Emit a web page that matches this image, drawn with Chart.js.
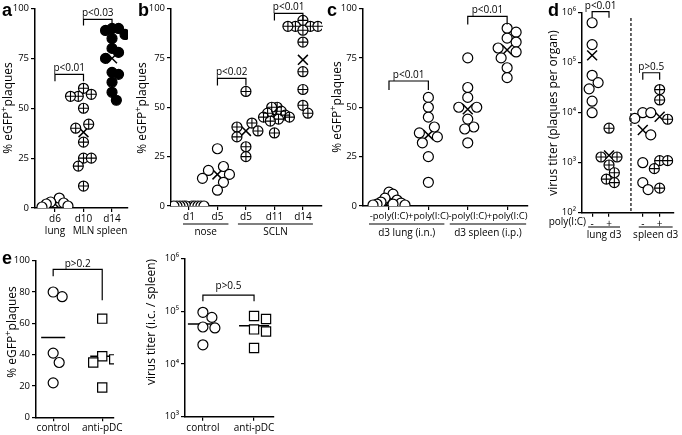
<!DOCTYPE html>
<html>
<head>
<meta charset="utf-8">
<script src="https://cdn.jsdelivr.net/npm/chart.js@4.4.1/dist/chart.umd.min.js"></script>
<style>
html, body { margin: 0; padding: 0; background: #fff; }
#wrap { position: relative; width: 682px; height: 435px; overflow: hidden; }
#wrap canvas { position: absolute; left: 0; top: 0; }
</style>
</head>
<body>
<div id="wrap">
  <canvas id="pa" width="682" height="435"></canvas>
  <canvas id="pb" width="682" height="435"></canvas>
  <canvas id="pc" width="682" height="435"></canvas>
  <canvas id="pd" width="682" height="435"></canvas>
  <canvas id="pe1" width="682" height="435"></canvas>
  <canvas id="pe2" width="682" height="435"></canvas>
</div>
<script>
// ---- panel a : % eGFP+ plaques per organ
const aCats = [['d6', 'lung'], ['d10', 'MLN'], ['d14', 'spleen']];
const aD6 = [5, 3, 2.5, 2, 1, 0.5];
const aD10 = [60, 57, 56, 56, 50, 42, 40, 33, 25, 25, 21, 11];
const aD14 = [90, 90, 89, 87, 85, 80, 78, 75, 68, 67, 63, 58, 54];
const aMeans = [2, 38, 75];

// ---- panel b : nose / SCLN
const bCats = ['d1', 'd5', 'd5', 'd11', 'd14'];
const bNoseD1 = [0, 0, 0, 0, 0, 0, 0, 0, 0, 0];
const bNoseD5 = [29, 20, 18, 16, 14, 12, 8];
const bSclnD5 = [58, 42, 40, 38, 35, 30, 25];
const bSclnD11 = [50, 50, 48, 47, 46, 45, 45, 44, 43, 37];
const bSclnD14 = [94, 91, 91, 91, 91, 89, 83, 68, 59, 51, 47];
const bMeans = [0, 16, 38, 46, 74];

// ---- panel c : poly(I:C)
const cCats = ['-poly(I:C)', '+poly(I:C)', '-poly(I:C)', '+poly(I:C)'];
const cLungMinus = [7, 6, 4, 3, 2, 1.5, 1, 1, 0.5, 0.5];
const cLungPlus = [55, 50, 45, 40, 37, 35, 32, 25, 12];
const cSpleenMinus = [75, 60, 55, 50, 50, 44, 40, 39, 32];
const cSpleenPlus = [90, 88, 85, 83, 80, 78, 75, 70, 65];
const cMeans = [2, 36, 49, 79];

// ---- panel d : virus titer
const dCats = ['-', '+', '', '-', '+'];
const dLungMinus = [630000, 230000, 56000, 40000, 30000, 17000, 10000];
const dLungPlus = [4900, 1300, 1300, 900, 630, 470, 400];
const dSpleenMinus = [10000, 10000, 7700, 3600, 1000, 400, 290];
const dSpleenPlus = [29000, 18000, 7400, 1100, 1100, 760, 310];
const dMeans = [140000, 1400, null, 4500, 8300];

// ---- panel e : pDC depletion
const eCats = ['control', 'anti-pDC'];
const eGfpControl = [80, 77, 41, 35, 22];
const eGfpAnti = [63, 39, 37, 35, 19];
const eGfpMeans = [51, 39];
const eTiterControl = [95000, 76000, 50000, 48000, 23000];
const eTiterAnti = [81000, 71000, 45000, 41000, 20000];
const eTiterMeans = [57000, 53000];

const FAM = '"Open Sans", "Noto Sans", sans-serif';
const SUP = ['\u2070', '\u00b9', '\u00b2', '\u00b3', '\u2074', '\u2075', '\u2076'];

function group(values, cat, kind) {
    const ds = {
        data: values.map(v => ({ x: cat, y: v })),
        swarm: true,
        cat: cat,
        borderColor: '#000',
        borderWidth: 1.2,
        pointRadius: 5,
        pointHoverRadius: 5,
        backgroundColor: '#fff',
        pointStyle: 'circle'
    };
    if (kind === 'filled') ds.backgroundColor = '#000';
    if (kind === 'plus') ds.plus = true;
    if (kind === 'square') { ds.pointStyle = 'rect'; ds.pointRadius = 6.5; }
    return ds;
}

function means(arr, style, r) {
    return {
        data: arr.map((m, i) => m == null ? null : { x: i, y: m }).filter(p => p),
        isMean: true,
        pointStyle: style,
        pointRadius: r,
        borderColor: '#000',
        backgroundColor: '#000',
        borderWidth: 1.5
    };
}

function richText(g, parts, x, y, rot, size) {
    g.save();
    g.translate(x, y);
    if (rot) g.rotate(-Math.PI / 2);
    let w = 0;
    parts.forEach(p => {
        g.font = (p.sup ? size * 0.8 : size) + 'px ' + FAM;
        w += g.measureText(p.t).width;
    });
    let cx = -w / 2;
    g.textAlign = 'left';
    g.textBaseline = 'middle';
    parts.forEach(p => {
        g.font = (p.sup ? size * 0.8 : size) + 'px ' + FAM;
        g.fillText(p.t, cx, p.sup ? -size * 0.38 : 0);
        cx += g.measureText(p.t).width;
    });
    g.restore();
}

// crosses inside the circled points, brackets, group lines and free text
const annot = {
    id: 'annot',
    afterDatasetDraw(chart, args) {
        const ds = chart.data.datasets[args.index];
        if (!ds.plus) return;
        const g = chart.ctx;
        g.save();
        g.strokeStyle = '#000';
        g.lineWidth = 1.1;
        g.beginPath();
        args.meta.data.forEach(el => {
            const r = ds.pointRadius;
            g.moveTo(el.x - r, el.y); g.lineTo(el.x + r, el.y);
            g.moveTo(el.x, el.y - r); g.lineTo(el.x, el.y + r);
        });
        g.stroke();
        g.restore();
    },
    afterDraw(chart, args, o) {
        const g = chart.ctx, xs = chart.scales.x, ys = chart.scales.y;
        g.save();
        g.strokeStyle = '#000';
        g.fillStyle = '#000';
        g.lineWidth = 1.2;
        g.textAlign = 'center';
        g.textBaseline = 'middle';
        if (o.vline) {
            const x = xs.getPixelForValue(o.vline.x);
            g.setLineDash([3, 2]);
            g.beginPath();
            g.moveTo(x, o.vline.top);
            g.lineTo(x, chart.chartArea.bottom);
            g.stroke();
            g.setLineDash([]);
        }
        (o.brackets || []).forEach(b => {
            const x1 = xs.getPixelForValue(b.from), x2 = xs.getPixelForValue(b.to);
            const y = ys.getPixelForValue(b.y);
            g.beginPath();
            g.moveTo(x1, y + b.legs[0]);
            g.lineTo(x1, y);
            g.lineTo(x2, y);
            g.lineTo(x2, y + b.legs[1]);
            g.stroke();
            g.font = '10px ' + FAM;
            g.fillText(b.text, (x1 + x2) / 2, y - (b.gap || 6));
        });
        (o.groups || []).forEach(gr => {
            const x1 = xs.getPixelForValue(gr.from) - gr.ext[0];
            const x2 = xs.getPixelForValue(gr.to) + gr.ext[1];
            g.beginPath();
            g.moveTo(x1, gr.lineY);
            g.lineTo(x2, gr.lineY);
            g.stroke();
            g.font = '10px ' + FAM;
            g.fillText(gr.text, (x1 + x2) / 2, gr.textY);
        });
        (o.texts || []).forEach(t => {
            if (t.parts) {
                richText(g, t.parts, t.x, t.y, t.rot, t.size || 12);
                return;
            }
            g.save();
            g.font = t.font || ('10px ' + FAM);
            g.textAlign = t.align || 'center';
            g.textBaseline = t.baseline || 'middle';
            g.translate(t.x, t.y);
            if (t.rot) g.rotate(-Math.PI / 2);
            g.fillText(t.text, 0, 0);
            g.restore();
        });
        g.restore();
    }
};

// spread points of one group sideways so the markers do not sit on top of each other
function swarm(chart, minDist, step, maxHalf) {
    const xs = chart.scales.x, ys = chart.scales.y;
    const unit = xs.getPixelForValue(1) - xs.getPixelForValue(0);
    const mds = chart.data.datasets.find(d => d.isMean);
    chart.data.datasets.forEach(ds => {
        if (!ds.swarm) return;
        const placed = [];
        const m = mds && mds.pointStyle === 'crossRot' ? mds.data.find(p => p.x === ds.cat) : null;
        if (m) placed.push({ o: 0, y: ys.getPixelForValue(m.y) });
        const offs = [];
        ds.data.forEach(p => {
            const py = ys.getPixelForValue(p.y);
            for (let k = 0; k < 400; k++) {
                const o = (k % 2 ? 1 : -1) * Math.ceil(k / 2) * step;
                if (placed.every(q => Math.hypot(q.o - o, q.y - py) >= minDist)) {
                    placed.push({ o: o, y: py });
                    offs.push(o);
                    break;
                }
            }
        });
        const big = Math.max(...offs.map(Math.abs));
        const f = big > maxHalf ? maxHalf / big : 1;
        ds.data.forEach((p, i) => { p.x = ds.cat + offs[i] * f / unit; });
    });
    chart.update('none');
}

function xAxis(min, max, cats, size) {
    return {
        type: 'linear',
        min: min,
        max: max,
        afterFit: s => { s.height = 30; },
        afterBuildTicks: s => {
            s.ticks = cats.map((c, i) => ({ value: i })).filter(t => cats[t.value] !== '');
        },
        ticks: {
            autoSkip: false,
            maxRotation: 0,
            padding: 1,
            color: '#000',
            font: { family: FAM, size: size || 10 },
            callback: v => cats[v]
        },
        grid: { drawOnChartArea: false, drawTicks: true, tickLength: 4, color: '#000', lineWidth: 1.2 },
        border: { color: '#000', width: 1.5 }
    };
}

function yLinear(max, step) {
    return {
        type: 'linear',
        min: 0,
        max: max,
        afterFit: s => { s.width = 30; },
        ticks: { stepSize: step, padding: 2, color: '#000', font: { family: FAM, size: 9.5 } },
        grid: { drawOnChartArea: false, drawTicks: true, tickLength: 4, color: '#000', lineWidth: 1.2 },
        border: { color: '#000', width: 1.5 }
    };
}

function yLog(lo, hi) {
    return {
        type: 'logarithmic',
        min: Math.pow(10, lo),
        max: Math.pow(10, hi),
        afterFit: s => { s.width = 30; },
        afterBuildTicks: s => {
            const t = [];
            for (let e = lo; e <= hi; e++) t.push({ value: Math.pow(10, e) });
            s.ticks = t;
        },
        ticks: {
            padding: 2,
            color: '#000',
            font: { family: FAM, size: 9.5 },
            callback: v => '10' + SUP[Math.round(Math.log10(v))]
        },
        grid: { drawOnChartArea: false, drawTicks: true, tickLength: 4, color: '#000', lineWidth: 1.2 },
        border: { color: '#000', width: 1.5 }
    };
}

function panel(id, area, xs, ys, datasets, ann) {
    return new Chart(document.getElementById(id), {
        type: 'scatter',
        data: { datasets: datasets },
        options: {
            responsive: false,
            animation: false,
            devicePixelRatio: 1,
            layout: {
                padding: { left: area[0] - 30, top: area[1], right: 682 - area[2], bottom: 435 - area[3] - 30 }
            },
            plugins: { legend: { display: false }, tooltip: { enabled: false }, annot: ann },
            scales: { x: xs, y: ys }
        },
        plugins: [annot]
    });
}

const eGFP = [{ t: '% eGFP' }, { t: '+', sup: true }, { t: 'plaques' }];
const LETTER = 'bold 18px "Liberation Sans", Arial, sans-serif';

// a
const chartA = panel('pa', [35, 8, 128, 208], xAxis(-0.70, 2.56, aCats), yLinear(100, 25), [
    group(aD6, 0, 'open'),
    group(aD10, 1, 'plus'),
    group(aD14, 2, 'filled'),
    means(aMeans, 'crossRot', 7)
], {
    brackets: [
        { from: 0, to: 1, y: 67, legs: [7, 7], text: 'p<0.01' },
        { from: 1, to: 2, y: 94.5, legs: [6, 6], text: 'p<0.03' }
    ],
    texts: [
        { text: 'a', x: 2, y: 16, font: LETTER, align: 'left', baseline: 'alphabetic' },
        { parts: eGFP, x: 9, y: 108, rot: true, size: 12 }
    ]
});
swarm(chartA, 9, 3, 13);

// b
const chartB = panel('pb', [171, 6, 322, 206], xAxis(-0.63, 4.67, bCats), yLinear(100, 25), [
    group(bNoseD1, 0, 'open'),
    group(bNoseD5, 1, 'open'),
    group(bSclnD5, 2, 'plus'),
    group(bSclnD11, 3, 'plus'),
    group(bSclnD14, 4, 'plus'),
    means(bMeans, 'crossRot', 7)
], {
    brackets: [
        { from: 1, to: 2, y: 64.6, legs: [7, 7], text: 'p<0.02' },
        { from: 3, to: 4, y: 97.5, legs: [7, 7], text: 'p<0.01' }
    ],
    groups: [
        { from: 0, to: 1, ext: [6, 11], lineY: 224, textY: 232, text: 'nose' },
        { from: 2, to: 4, ext: [8, 10], lineY: 224, textY: 232, text: 'SCLN' }
    ],
    texts: [
        { text: 'b', x: 138, y: 16, font: LETTER, align: 'left', baseline: 'alphabetic' },
        { parts: eGFP, x: 143, y: 108, rot: true, size: 12 }
    ]
});
swarm(chartB, 9, 3, 15);

// c
const chartC = panel('pc', [363, 7, 528, 206], xAxis(-0.66, 3.53, cCats, 9.5), yLinear(100, 25), [
    group(cLungMinus, 0, 'open'),
    group(cLungPlus, 1, 'open'),
    group(cSpleenMinus, 2, 'open'),
    group(cSpleenPlus, 3, 'open'),
    means(cMeans, 'crossRot', 7)
], {
    brackets: [
        { from: 0, to: 1, y: 63.3, legs: [9, 9], text: 'p<0.01' },
        { from: 2, to: 3, y: 96, legs: [8, 8], text: 'p<0.01' }
    ],
    groups: [
        { from: 0, to: 1, ext: [20, 16], lineY: 224, textY: 233, text: 'd3 lung (i.n.)' },
        { from: 2, to: 3, ext: [18, 19], lineY: 224, textY: 233, text: 'd3 spleen (i.p.)' }
    ],
    texts: [
        { text: 'c', x: 327, y: 16, font: LETTER, align: 'left', baseline: 'alphabetic' },
        { parts: eGFP, x: 338, y: 107, rot: true, size: 12 }
    ]
});
swarm(chartC, 9, 3, 16);

// d
const chartD = panel('pd', [582, 12.7, 681, 212.7], xAxis(-0.6, 4.82, dCats), yLog(2, 6), [
    group(dLungMinus, 0, 'open'),
    group(dLungPlus, 1, 'plus'),
    group(dSpleenMinus, 3, 'open'),
    group(dSpleenPlus, 4, 'plus'),
    means(dMeans, 'crossRot', 7)
], {
    vline: { x: 2.3, top: 18 },
    brackets: [
        { from: 0, to: 1, y: 1050000, legs: [6, 6], text: 'p<0.01', gap: 5 },
        { from: 3, to: 4, y: 63000, legs: [7, 7], text: 'p>0.5' }
    ],
    groups: [
        { from: 0, to: 1, ext: [4, 11], lineY: 227, textY: 235, text: 'lung d3' },
        { from: 3, to: 4, ext: [4, 13], lineY: 227, textY: 235, text: 'spleen d3' }
    ],
    texts: [
        { text: 'd', x: 548, y: 16, font: LETTER, align: 'left', baseline: 'alphabetic' },
        { text: 'poly(I:C)', x: 586, y: 222, align: 'right' },
        { text: 'virus titer (plaques per organ)', x: 554, y: 113, rot: true, font: '12px ' + FAM }
    ]
});
swarm(chartD, 9, 3, 8);

// e, left
const chartE1 = panel('pe1', [36, 260.7, 114, 417.3], xAxis(-0.35, 1.24, eCats), yLinear(100, 20), [
    group(eGfpControl, 0, 'open'),
    group(eGfpAnti, 1, 'square'),
    means(eGfpMeans, 'line', 12)
], {
    brackets: [
        { from: 0, to: 1, y: 94.5, legs: [7, 31], text: 'p>0.2', gap: 5 }
    ],
    texts: [
        { text: 'e', x: 2, y: 264, font: LETTER, align: 'left', baseline: 'alphabetic' },
        { parts: eGFP, x: 13, y: 332, rot: true, size: 12 }
    ]
});
swarm(chartE1, 10, 3, 12);

// e, right
const chartE2 = panel('pe2', [185, 258.3, 274, 416.7], xAxis(-0.35, 1.39, eCats), yLog(3, 6), [
    group(eTiterControl, 0, 'open'),
    group(eTiterAnti, 1, 'square'),
    means(eTiterMeans, 'line', 15)
], {
    brackets: [
        { from: 0, to: 1, y: 200000, legs: [6, 6], text: 'p>0.5', gap: 9 }
    ],
    texts: [
        { text: 'virus titer (i.c. / spleen)', x: 152, y: 322, rot: true, font: '12px ' + FAM }
    ]
});
swarm(chartE2, 10, 3, 12);
</script>
</body>
</html>
